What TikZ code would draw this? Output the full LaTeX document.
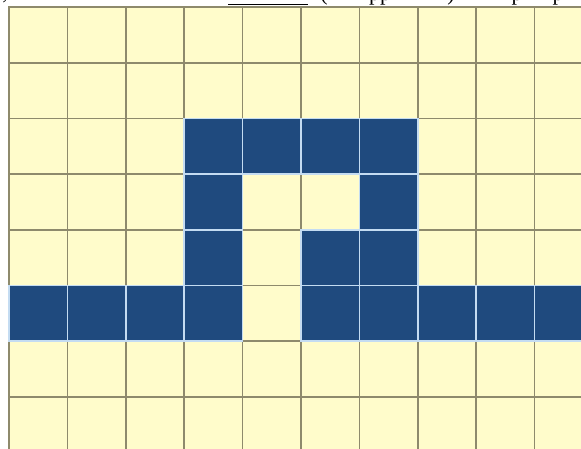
\documentclass[tikz,border=0pt]{standalone}
\usepackage{fontspec}
\setmainfont{Liberation Serif}
\definecolor{cellyellow}{HTML}{FFFCCB}
\definecolor{gridgrey}{HTML}{8E8A6C}
\definecolor{cellblue}{HTML}{1F4A7E}
\definecolor{bluegap}{HTML}{C4DCF2}
\tikzset{
  yellowcell/.style={fill=cellyellow, draw=gridgrey, line width=1.6pt},
  bluecell/.style={fill=cellblue, draw=bluegap, line width=1.6pt},
  cuttext/.style={anchor=base, inner sep=0pt, font=\fontsize{22}{24}\selectfont}
}
\begin{document}
\begin{tikzpicture}[x=1pt,y=-1pt]
\useasboundingbox (0,0) rectangle (581,448);
\clip (0,0) rectangle (581,448);
\fill[white] (0,0) rectangle (581,448);
% cropped title line (only descenders visible)
\begin{scope}
  \clip (0,0) rectangle (581,6.5);
  \node[cuttext] (t0) at (5,-1) {,};
  \node[cuttext] (t1) at (324,0.5) {(};
  \node[cuttext] (t2) at (380,0.5) {pp};
  \node[cuttext] (t3) at (451,0.5) {)};
  \node[cuttext] (t4) at (517,0.5) {p};
  \node[cuttext] (t5) at (558,0.5) {p};
\end{scope}
\draw[black, line width=1pt] (228,4.6) -- (308,4.6);
% grid
\foreach \r in {0,...,7}{
  \foreach \c in {0,...,9}{
    \path[yellowcell] ({9+58.4*\c},{7+55.7*\r}) rectangle ++(58.4,55.7);
  }
}
% blue cells
\foreach \c/\r in {3/2,4/2,5/2,6/2, 3/3,6/3, 3/4,5/4,6/4,
                   0/5,1/5,2/5,3/5,5/5,6/5,7/5,8/5,9/5}{
  \path[bluecell] ({9+58.4*\c},{7+55.7*\r}) rectangle ++(58.4,55.7);
}
\end{tikzpicture}
\end{document}
